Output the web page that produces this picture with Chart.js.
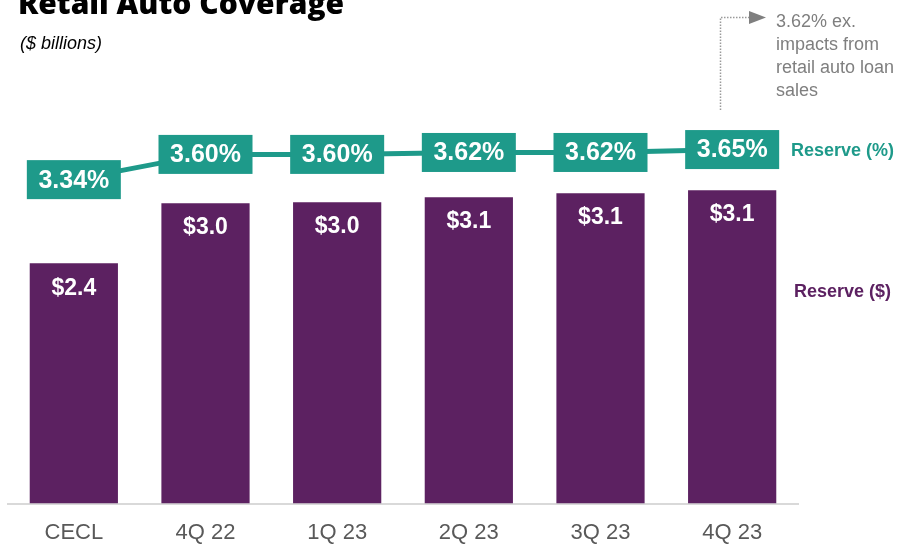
<!DOCTYPE html>
<html>
<head>
<meta charset="utf-8">
<script src="https://cdn.jsdelivr.net/npm/chart.js@4.4.1/dist/chart.umd.min.js"></script>
<style>
  html, body { margin: 0; padding: 0; background: #fff; overflow: hidden; }
  #wrap { position: relative; width: 900px; height: 548px; overflow: hidden; }
  #chart { position: absolute; left: 0; top: 0; }
  .txt { position: absolute; white-space: nowrap; font-family: "Liberation Sans", Arial, sans-serif; }
  #title { left: 18px; top: -12px; font-family: "Open Sans", sans-serif; font-weight: 800; font-size: 30px; line-height: 1; color: #000; }
  #subtitle { left: 20px; top: 33px; font-size: 18px; font-style: italic; line-height: 20px; color: #000; }
  #note { left: 776px; top: 10px; font-size: 18px; line-height: 23px; color: #7f7f7f; white-space: normal; width: 124px; }
  #lblPct { left: 791px; top: 139px; font-size: 18px; font-weight: bold; color: #1e9a8a; line-height: 22px; }
  #lblAmt { left: 794px; top: 280px; font-size: 18px; font-weight: bold; color: #5c2161; line-height: 22px; }
</style>
</head>
<body>
<div id="wrap">
  <canvas id="chart" width="900" height="554"></canvas>
  <div class="txt" id="title">Retail Auto Coverage</div>
  <div class="txt" id="subtitle">($ billions)</div>
  <div class="txt" id="note">3.62% ex.<br>impacts from<br>retail auto loan<br>sales</div>
  <div class="txt" id="lblPct">Reserve (%)</div>
  <div class="txt" id="lblAmt">Reserve ($)</div>
</div>
<script>
// --- Data ---
const periods = ['CECL', '4Q 22', '1Q 23', '2Q 23', '3Q 23', '4Q 23'];
const reserveAmt = [2.40, 3.00, 3.01, 3.06, 3.10, 3.13];   // $ billions
const reservePct = [3.34, 3.60, 3.60, 3.62, 3.62, 3.65];   // %

const TEAL = '#1e9a8a';
const PURPLE = '#5c2161';

// Labels inside the bars and boxed labels on the line
const valueLabels = {
    id: 'valueLabels',
    afterDatasetsDraw(chart) {
        const ctx = chart.ctx;
        ctx.save();
        ctx.textAlign = 'center';
        ctx.textBaseline = 'middle';

        // bar values
        ctx.fillStyle = '#fff';
        ctx.font = 'bold 23px "Liberation Sans", Arial, sans-serif';
        chart.getDatasetMeta(1).data.forEach((bar, i) => {
            ctx.fillText('$' + reserveAmt[i].toFixed(1), bar.x, bar.y + 25);
        });

        // percentage boxes
        const bw = 94, bh = 39;
        chart.getDatasetMeta(0).data.forEach((pt, i) => {
            ctx.fillStyle = TEAL;
            ctx.fillRect(pt.x - bw / 2, pt.y - bh / 2, bw, bh);
            ctx.fillStyle = '#fff';
            ctx.font = 'bold 25px "Liberation Sans", Arial, sans-serif';
            ctx.fillText(reservePct[i].toFixed(2) + '%', pt.x, pt.y + 1);
        });
        ctx.restore();
    },
    afterDraw(chart) {
        // dotted callout pointing at the footnote
        const ctx = chart.ctx;
        ctx.save();
        ctx.strokeStyle = '#9a9a9a';
        ctx.lineWidth = 1.5;
        ctx.setLineDash([1.5, 1.5]);
        ctx.beginPath();
        ctx.moveTo(720.5, 110);
        ctx.lineTo(720.5, 17.5);
        ctx.lineTo(750, 17.5);
        ctx.stroke();
        ctx.setLineDash([]);
        ctx.fillStyle = '#7f7f7f';
        ctx.beginPath();
        ctx.moveTo(749, 11);
        ctx.lineTo(766, 17.5);
        ctx.lineTo(749, 24);
        ctx.closePath();
        ctx.fill();
        ctx.restore();
    }
};

new Chart(document.getElementById('chart').getContext('2d'), {
    type: 'bar',
    data: {
        labels: periods,
        datasets: [
            {
                type: 'line',
                label: 'Reserve (%)',
                data: reservePct,
                yAxisID: 'yPct',
                borderColor: TEAL,
                borderWidth: 5,
                pointRadius: 0,
                fill: false,
                tension: 0,
                order: 0
            },
            {
                label: 'Reserve ($)',
                data: reserveAmt,
                yAxisID: 'yAmt',
                backgroundColor: PURPLE,
                categoryPercentage: 1,
                barPercentage: 0.67,
                order: 1
            }
        ]
    },
    options: {
        responsive: false,
        animation: false,
        devicePixelRatio: 1,
        layout: { padding: { left: 8, right: 102, top: 103, bottom: 0 } },
        plugins: {
            legend: { display: false },
            tooltip: { enabled: false }
        },
        scales: {
            x: {
                grid: { display: false },
                border: { display: true, color: '#d9d9d9', width: 2 },
                ticks: {
                    color: '#595959',
                    padding: 8,
                    font: { family: '"Liberation Sans", Arial, sans-serif', size: 22 }
                }
            },
            yAmt: { display: false, min: 0, max: 4.0 },
            yPct: { display: false, min: 0, max: 4.13 }
        }
    },
    plugins: [valueLabels]
});
</script>
</body>
</html>
